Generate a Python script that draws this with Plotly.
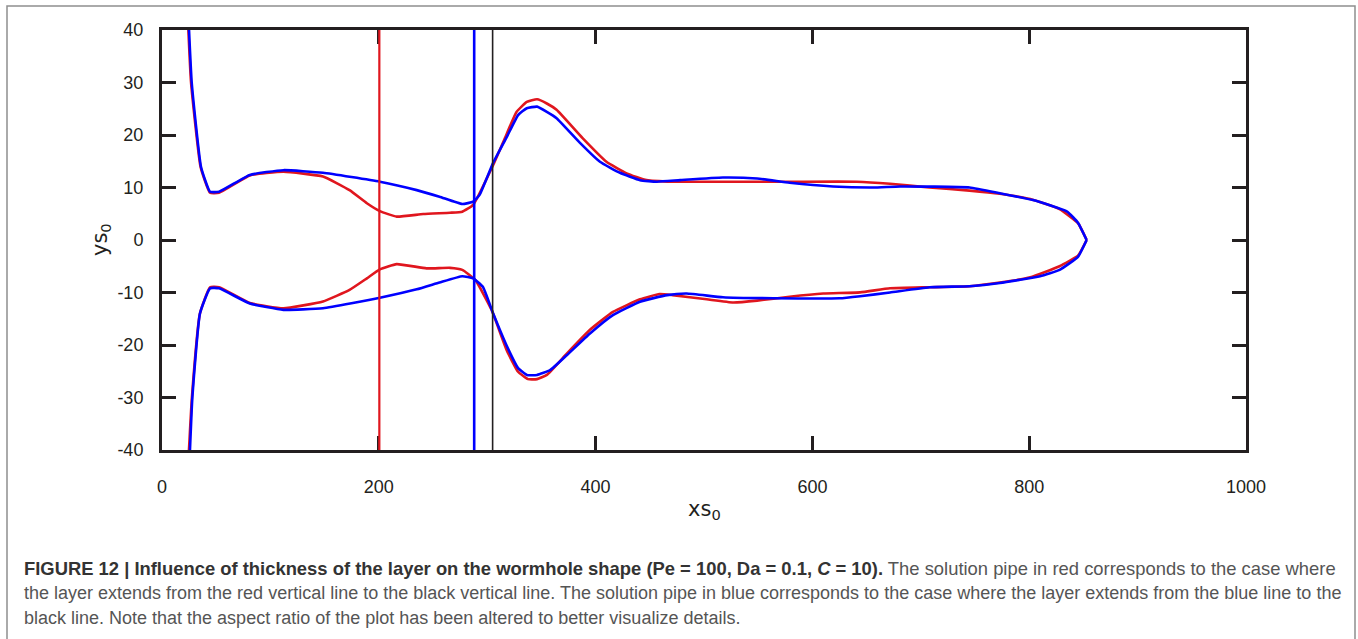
import plotly.graph_objects as go

# ---------------- data ----------------
# red solution pipe (layer from red line to black line)
red_upper_x = [24.0, 26.8, 35.6, 44.3, 52.6, 81, 112, 148.5, 173, 189, 201, 216.5, 241, 265.7, 277, 287,
               305.5, 318, 327, 336.5, 346, 355, 364, 388, 410, 428.6, 447, 471, 520, 580, 641, 671.6,
               708, 745, 773, 801, 828, 845, 853]
red_upper_y = [41.5, 30, 13.9, 9.0, 9.0, 12.3, 13.0, 12.1, 9.5, 7.0, 5.5, 4.45, 4.95, 5.2, 5.4, 6.7,
               14.3, 20.2, 24.4, 26.3, 26.8, 26.0, 24.8, 19.4, 14.9, 12.7, 11.4, 11.1, 11.1, 11.1, 11.1, 10.7,
               10.0, 9.4, 8.8, 7.8, 5.9, 3.2, 0]
red_lower_x = [24.5, 27.6, 35.0, 44.3, 52.6, 81, 112, 148.5, 173, 189, 201, 216.5, 244, 265.7, 277, 289,
               304, 318, 328.5, 337.6, 346, 355, 373.6, 394.8, 416, 441, 459, 471, 502.5, 527, 549, 579,
               610, 644, 671.6, 708, 745, 773, 801, 828, 845, 853]
red_lower_y = [-41.5, -30, -14, -9.0, -9.0, -12.0, -13.0, -11.7, -9.5, -7.3, -5.6, -4.6, -5.4, -5.3, -5.7, -7.6,
               -13.3, -21, -25.1, -26.5, -26.5, -25.7, -21.6, -17.1, -13.7, -11.3, -10.3, -10.5, -11.3, -11.9, -11.55, -10.8,
               -10.2, -9.97, -9.2, -9.0, -8.8, -8.1, -7.1, -5.0, -3.0, 0]

# blue solution pipe (layer from blue line to black line)
blue_upper_x = [24.6, 27.4, 36.0, 44.3, 52.6, 81, 112, 148.5, 201, 235, 256, 277, 287, 293,
                305.5, 318, 328.5, 336.5, 346, 355, 364, 385.6, 404, 422.5, 441, 456.5, 478, 517.5, 549, 579,
                619, 656, 681, 745, 773, 803.5, 835, 845, 853]
blue_upper_y = [41.5, 30, 13.9, 9.2, 9.2, 12.4, 13.3, 12.8, 11.1, 9.5, 8.25, 6.86, 7.3, 8.6,
                14.7, 19.6, 23.8, 25.1, 25.4, 24.4, 23.2, 18.5, 14.9, 12.8, 11.4, 11.1, 11.4, 11.9, 11.7, 10.9,
                10.2, 10.0, 10.2, 10.0, 8.9, 7.6, 5.4, 3.3, 0]
blue_lower_x = [25.5, 28.0, 35.0, 44.3, 52.6, 81, 112, 148.5, 201, 235, 256, 277, 287, 296,
                305.5, 319, 328.5, 336.5, 346, 358, 373.6, 394.8, 416, 441, 466, 484, 517.5, 564, 625, 644,
                671.6, 708, 745, 773, 810, 828, 845, 853]
blue_lower_y = [-41.5, -30, -14, -9.2, -9.2, -12.1, -13.3, -13.0, -11.0, -9.4, -8.1, -6.9, -7.3, -8.9,
                -14, -20.6, -24.4, -25.7, -25.7, -24.8, -21.9, -17.8, -14.3, -11.75, -10.5, -10.2, -10.9, -11.1, -11.1, -10.7,
                -10.0, -9.0, -8.8, -8.2, -6.9, -5.7, -3.2, 0]

# layer boundaries (vertical lines)
red_layer_start = 200.5
blue_layer_start = 288
layer_end = 305
y_span = [-40, 40]

x_ticks = [0, 200, 400, 600, 800, 1000]
y_ticks = [-40, -30, -20, -10, 0, 10, 20, 30, 40]

caption_lines = [
    "<b>FIGURE 12 | Influence of thickness of the layer on the wormhole shape (Pe = 100, Da = 0.1, <i>C</i> = 10).</b>"
    "<span style='color:#555555'> The solution pipe in red corresponds to the case where</span>",
    "the layer extends from the red vertical line to the black vertical line. The solution pipe in blue corresponds to the case where the layer extends from the blue line to the",
    "black line. Note that the aspect ratio of the plot has been altered to better visualize details.",
]

# ---------------- figure ----------------
RED = "#e0161e"
BLUE = "#0000ff"
DARK = "#231f20"

fig = go.Figure()

for xs, ys in [(red_upper_x, red_upper_y), (red_lower_x, red_lower_y)]:
    fig.add_trace(go.Scatter(x=xs, y=ys, mode="lines",
                             line=dict(color=RED, width=2.6, shape="spline", smoothing=0.4),
                             hoverinfo="skip", showlegend=False))
for xs, ys in [(blue_upper_x, blue_upper_y), (blue_lower_x, blue_lower_y)]:
    fig.add_trace(go.Scatter(x=xs, y=ys, mode="lines",
                             line=dict(color=BLUE, width=2.6, shape="spline", smoothing=0.4),
                             hoverinfo="skip", showlegend=False))

for xv, col, w in [(red_layer_start, RED, 2.2), (blue_layer_start, BLUE, 2.6), (layer_end, DARK, 1.6)]:
    fig.add_trace(go.Scatter(x=[xv, xv], y=y_span, mode="lines", line=dict(color=col, width=w),
                             hoverinfo="skip", showlegend=False))

axis_common = dict(
    showline=True, linewidth=3, linecolor=DARK, mirror="ticks",
    ticks="inside", ticklen=14, tickwidth=3, tickcolor=DARK,
    showgrid=False, zeroline=False, layer="below traces",
    tickfont=dict(family="Liberation Sans, Arial", size=18, color=DARK),
)

fig.update_xaxes(range=[0, 1000], tickvals=x_ticks, ticktext=[str(v) for v in x_ticks],
                 ticklabelstandoff=18, **axis_common)
fig.update_yaxes(range=[-40, 40], tickvals=y_ticks, ticktext=[str(v) for v in y_ticks],
                 ticklabelstandoff=12, **axis_common)

annotations = [
    dict(text="xs<sub>0</sub>", x=(704 - 162) / 1084, y=(450 - 510) / 420, xref="paper", yref="paper",
         xanchor="center", yanchor="middle", showarrow=False,
         font=dict(family="DejaVu Sans", size=21, color=DARK)),
    dict(text="ys<sub>0</sub>", x=(101 - 162) / 1084, y=0.5, xref="paper", yref="paper",
         xanchor="center", yanchor="middle", showarrow=False, textangle=-90,
         font=dict(family="DejaVu Sans", size=21, color=DARK)),
]
line_y_px = [568, 593, 618]
line_sizes = [18.4, 18, 18]
for i, (txt, ypx, fs) in enumerate(zip(caption_lines, line_y_px, line_sizes)):
    annotations.append(dict(
        text=txt, x=(22 - 162) / 1084, y=(450 - ypx) / 420, xref="paper", yref="paper",
        xanchor="left", yanchor="middle", showarrow=False, align="left",
        font=dict(family="Liberation Sans, Arial", size=fs, color="#333333" if i == 0 else "#555555")))

fig.update_layout(
    width=1358, height=639,
    margin=dict(l=162, r=112, t=30, b=189),
    paper_bgcolor="white", plot_bgcolor="white",
    annotations=annotations,
    shapes=[dict(type="rect", xref="paper", yref="paper",
                 x0=(7 - 162) / 1084, x1=(1355 - 162) / 1084,
                 y0=(450 - 660) / 420, y1=(450 - 6) / 420,
                 line=dict(color="#8f8f8f", width=1.5), fillcolor="rgba(0,0,0,0)", layer="below")],
)

fig.write_html("out.html", config={"displayModeBar": False},
               post_script="document.body.style.margin='0px';document.body.style.overflow='hidden';")
